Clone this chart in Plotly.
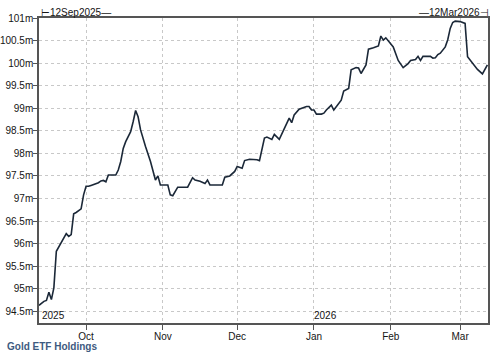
import plotly.graph_objects as go

dates = [
    "2025-09-12", "2025-09-14", "2025-09-15", "2025-09-16", "2025-09-17", "2025-09-18",
    "2025-09-19", "2025-09-20", "2025-09-21", "2025-09-23", "2025-09-24", "2025-09-25",
    "2025-09-26", "2025-09-27", "2025-09-29", "2025-09-30", "2025-10-01", "2025-10-02",
    "2025-10-03", "2025-10-05", "2025-10-06", "2025-10-07", "2025-10-08", "2025-10-09",
    "2025-10-10", "2025-10-13", "2025-10-14", "2025-10-15", "2025-10-16", "2025-10-17",
    "2025-10-19", "2025-10-20", "2025-10-21", "2025-10-22", "2025-10-23", "2025-10-25",
    "2025-10-27", "2025-10-29", "2025-10-30", "2025-10-31", "2025-11-03", "2025-11-04",
    "2025-11-05", "2025-11-07", "2025-11-11", "2025-11-13", "2025-11-14", "2025-11-16",
    "2025-11-18", "2025-11-19", "2025-11-20", "2025-11-25", "2025-11-26", "2025-11-28",
    "2025-11-30", "2025-12-01", "2025-12-03", "2025-12-04", "2025-12-06", "2025-12-09",
    "2025-12-10", "2025-12-12", "2025-12-13", "2025-12-15", "2025-12-16", "2025-12-18",
    "2025-12-20", "2025-12-22", "2025-12-23", "2025-12-24", "2025-12-26", "2025-12-29",
    "2025-12-30", "2025-12-31", "2026-01-01", "2026-01-02", "2026-01-04", "2026-01-05",
    "2026-01-06", "2026-01-08", "2026-01-09", "2026-01-12", "2026-01-13", "2026-01-15",
    "2026-01-16", "2026-01-18", "2026-01-19", "2026-01-20", "2026-01-22", "2026-01-23",
    "2026-01-25", "2026-01-27", "2026-01-28", "2026-01-29", "2026-01-30", "2026-01-31",
    "2026-02-02", "2026-02-04", "2026-02-06", "2026-02-08", "2026-02-09", "2026-02-11",
    "2026-02-12", "2026-02-13", "2026-02-14", "2026-02-17", "2026-02-18", "2026-02-19",
    "2026-02-20", "2026-02-21", "2026-02-23", "2026-02-24", "2026-02-25", "2026-02-26",
    "2026-02-27", "2026-03-01", "2026-03-03", "2026-03-04", "2026-03-06", "2026-03-08",
    "2026-03-10", "2026-03-11", "2026-03-12",
]

holdings_m = [
    94.63, 94.72, 94.74, 94.92, 94.76, 95.02,
    95.83, 95.92, 96.03, 96.22, 96.16, 96.20,
    96.66, 96.69, 96.77, 97.08, 97.27, 97.27,
    97.29, 97.33, 97.35, 97.39, 97.40, 97.37,
    97.52, 97.52, 97.63, 97.82, 98.11, 98.26,
    98.48, 98.70, 98.95, 98.81, 98.52, 98.15,
    97.82, 97.41, 97.50, 97.30, 97.30, 97.08,
    97.06, 97.25, 97.25, 97.46, 97.41, 97.38,
    97.33, 97.41, 97.30, 97.30, 97.47, 97.50,
    97.60, 97.71, 97.67, 97.84, 97.87, 97.86,
    97.84, 98.34, 98.36, 98.31, 98.42, 98.31,
    98.56, 98.78, 98.68, 98.85, 98.98, 99.04,
    99.04, 98.96, 98.96, 98.87, 98.87, 98.89,
    98.96, 99.07, 98.96, 99.18, 99.38, 99.44,
    99.85, 99.90, 99.89, 99.77, 99.96, 100.31,
    100.34, 100.38, 100.60, 100.51, 100.56, 100.49,
    100.36, 100.06, 99.90, 99.99, 100.06, 100.08,
    100.15, 100.06, 100.15, 100.15, 100.11, 100.12,
    100.19, 100.22, 100.36, 100.52, 100.77, 100.90,
    100.93, 100.92, 100.88, 100.14, 99.99, 99.86,
    99.76, 99.85, 99.96,
]

y_tick_vals = [94.5, 95, 95.5, 96, 96.5, 97, 97.5, 98, 98.5, 99, 99.5, 100, 100.5, 101]
y_tick_text = ["94.5m", "95m", "95.5m", "96m", "96.5m", "97m", "97.5m", "98m",
               "98.5m", "99m", "99.5m", "100m", "100.5m", "101m"]
x_tick_vals = ["2025-10-01", "2025-11-01", "2025-12-01", "2026-01-01", "2026-02-01", "2026-03-01"]
x_tick_text = ["Oct", "Nov", "Dec", "Jan", "Feb", "Mar"]

title_text = "Gold ETF Holdings"
start_label = "⊢12Sep2025—"
end_label = "—12Mar2026⊣"

fig = go.Figure()
fig.add_trace(go.Scatter(
    x=dates, y=holdings_m, mode="lines",
    line=dict(color="#1b2838", width=1.6),
    hoverinfo="skip", showlegend=False,
))

txt = "#151515"
font_main = dict(family="Liberation Sans, Arial, sans-serif", size=10, color=txt)

fig.update_layout(
    width=500, height=357,
    margin=dict(l=39, r=12, t=18, b=34),
    paper_bgcolor="white", plot_bgcolor="white",
    font=font_main,
    xaxis=dict(
        range=["2025-09-12", "2026-03-12 06:00"],
        tickvals=x_tick_vals, ticktext=x_tick_text,
        ticks="outside", ticklen=5, tickcolor="#555555",
        ticklabelstandoff=-2,
        automargin=False,
        showgrid=True, gridcolor="#c8c8c8", griddash="dot", gridwidth=1,
        showline=True, linecolor="#555555", linewidth=1.5, mirror=True,
        tickfont=dict(size=10, color=txt),
        zeroline=False,
    ),
    yaxis=dict(
        range=[94.24, 101.0],
        tickvals=y_tick_vals, ticktext=y_tick_text,
        ticks="outside", ticklen=4, tickcolor="#555555",
        ticklabelstandoff=-2,
        automargin=False,
        showgrid=True, gridcolor="#c8c8c8", griddash="dot", gridwidth=1,
        showline=True, linecolor="#555555", linewidth=1.5, mirror=True,
        tickfont=dict(size=10, color=txt),
        zeroline=False,
    ),
)

fig.add_annotation(x=0, y=1, xref="paper", yref="paper", text=start_label,
                   showarrow=False, xanchor="left", yanchor="bottom", yshift=-2,
                   font=dict(size=10, color=txt))
fig.add_annotation(x=1, y=1, xref="paper", yref="paper", text=end_label,
                   showarrow=False, xanchor="right", yanchor="bottom", xshift=3, yshift=-2,
                   font=dict(size=10, color=txt))
fig.add_annotation(x=0, y=0, xref="paper", yref="paper", text="2025",
                   showarrow=False, xanchor="left", yanchor="bottom", xshift=1,
                   font=dict(size=10, color=txt))
fig.add_annotation(x="2026-01-01", y=0, xref="x", yref="paper", text="2026",
                   showarrow=False, xanchor="left", yanchor="bottom", xshift=-2,
                   font=dict(size=10, color=txt))
fig.add_annotation(x=0, y=0, xref="paper", yref="paper", text="<b>" + title_text + "</b>",
                   showarrow=False, xanchor="left", yanchor="middle", xshift=-34, yshift=-23,
                   font=dict(size=10, color="#3d5a80"))

fig.write_html("out.html")
